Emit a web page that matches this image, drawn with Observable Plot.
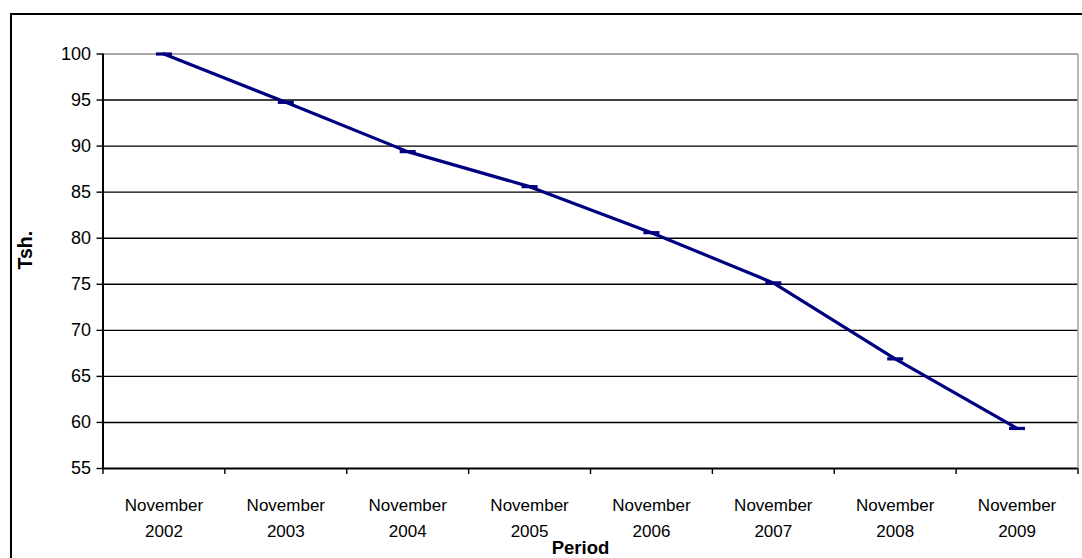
<!DOCTYPE html>
<html>
<head>
<meta charset="utf-8">
<script src="https://cdn.jsdelivr.net/npm/d3@7"></script>
<script src="https://cdn.jsdelivr.net/npm/@observablehq/plot@0.6"></script>
<style>
  html, body { margin: 0; padding: 0; background: #fff; overflow: hidden; }
  #chart { position: relative; width: 1082px; height: 558px; }
  #chart svg { position: absolute; left: 0; top: 0; }
  #border {
    position: absolute; left: 9.5px; top: 12.5px; width: 1090px; height: 600px;
    border: 2.5px solid #000; box-sizing: border-box; pointer-events: none; z-index: 2;
  }
</style>
</head>
<body>
<div id="chart"><div id="border"></div></div>
<script>
// Period labels (two lines each) and values in Tsh.
const months = ["November", "November", "November", "November", "November", "November", "November", "November"];
const years = ["2002", "2003", "2004", "2005", "2006", "2007", "2008", "2009"];
const values = [100, 94.75, 89.4, 85.6, 80.6, 75.15, 66.9, 59.35];
const yTicks = [55, 60, 65, 70, 75, 80, 85, 90, 95, 100];

// Each period sits in the middle of its category slot; ticks mark slot boundaries.
const rows = values.map((v, i) => ({pos: i + 0.5, month: months[i], year: years[i], value: v}));
const bounds = d3.range(years.length + 1);

const navy = "#000080";
// Short horizontal dash used as the point marker
const dash = {
  draw(ctx) {
    ctx.moveTo(-8, -1.6);
    ctx.lineTo(8, -1.6);
    ctx.lineTo(8, 1.6);
    ctx.lineTo(-8, 1.6);
    ctx.closePath();
  }
};

const chart = Plot.plot({
  width: 1082,
  height: 558,
  marginLeft: 102.5,
  marginRight: 4.5,
  marginTop: 53.5,
  marginBottom: 90,
  style: {
    fontFamily: "Arial, 'Liberation Sans', sans-serif",
    fontSize: "17px",
    color: "#000",
    background: "transparent"
  },
  x: {type: "linear", domain: [0, years.length], axis: null},
  y: {domain: [55, 100], axis: null},
  marks: [
    // horizontal gridlines
    Plot.ruleY(yTicks.filter(t => t > 55 && t < 100), {stroke: "#000", strokeWidth: 1.4}),
    Plot.ruleY([100], {stroke: "#888", strokeWidth: 1.4}),
    Plot.ruleX([years.length], {stroke: "#999", strokeWidth: 1.4}),
    // y axis ticks and labels
    Plot.axisY({ticks: yTicks, tickSize: 6, tickPadding: 6, strokeWidth: 1.4, fontSize: 18, label: null}),
    // x axis boundary ticks
    Plot.axisX({ticks: bounds, tickSize: 6, tickFormat: () => "", strokeWidth: 1.4, label: null}),
    Plot.ruleX([0], {stroke: "#000", strokeWidth: 2}),
    Plot.ruleY([55], {stroke: "#000", strokeWidth: 2}),
    // category labels
    Plot.text(rows, {
      x: "pos",
      frameAnchor: "bottom",
      text: d => d.month + "\n" + d.year,
      lineAnchor: "top",
      lineHeight: 1.53,
      dy: 24,
      fontSize: 17,
      fill: "#000"
    }),
    // series
    Plot.line(rows, {x: "pos", y: "value", stroke: navy, strokeWidth: 3.2}),
    Plot.dot(rows, {x: "pos", y: "value", symbol: dash, fill: navy, stroke: null, r: 4}),
    // axis titles
    Plot.text(["Period"], {
      frameAnchor: "bottom",
      text: d => d,
      lineAnchor: "bottom",
      dy: 85,
      dx: -10,
      fontWeight: "bold",
      fontSize: 18.5,
      fill: "#000"
    }),
    Plot.text(["Tsh."], {
      frameAnchor: "left",
      text: d => d,
      rotate: -90,
      textAnchor: "middle",
      lineAnchor: "middle",
      dx: -77.5,
      dy: -11,
      fontWeight: "bold",
      fontSize: 19.5,
      fill: "#000"
    })
  ]
});

document.getElementById("chart").appendChild(chart);
</script>
</body>
</html>
